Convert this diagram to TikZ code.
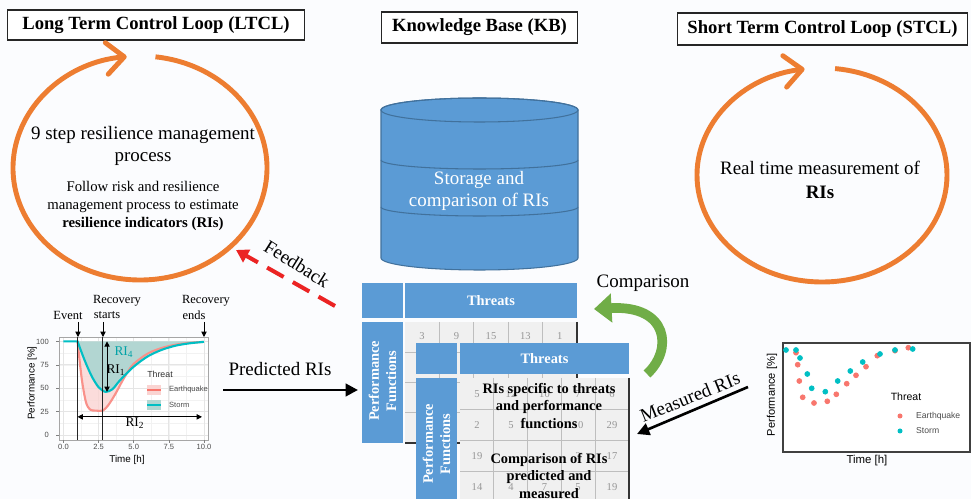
\documentclass[tikz,border=0pt]{standalone}
\usepackage{fontspec}
\setmainfont{Liberation Serif}
\setsansfont{Liberation Sans}
\usetikzlibrary{arrows.meta}
\definecolor{loopor}{RGB}{237,125,49}
\definecolor{kbblue}{RGB}{91,155,213}
\definecolor{kbedge}{RGB}{65,113,156}
\definecolor{cellgray}{RGB}{240,240,240}
\definecolor{cellline}{RGB}{190,190,190}
\definecolor{numgray}{RGB}{150,150,150}
\definecolor{fbred}{RGB}{235,35,35}
\definecolor{cmpgreen}{RGB}{112,173,71}
\definecolor{eqred}{RGB}{248,118,109}
\definecolor{eqfill}{RGB}{250,212,210}
\definecolor{stteal}{RGB}{0,191,196}
\definecolor{stfill}{RGB}{178,214,210}
\definecolor{bgpaper}{RGB}{251,252,254}
\newcommand{\pxu}{0.5669pt}
\begin{document}
\begin{tikzpicture}[x=0.02cm,y=-0.02cm,
    title/.style={draw=black!85,line width=0.8pt,fill=white,inner sep=0pt,
      font=\fontsize{10.6}{12}\selectfont\bfseries},
    big/.style={align=center,font=\fontsize{10.8}{12.5}\selectfont},
    small/.style={align=center,font=\fontsize{8.4}{10.2}\selectfont},
    cyc/.style={loopor,line width=2.8pt,
      -{Straight Barb[length=10pt,width=18pt,line width=2.8pt,round]}},
    hdr/.style={fill=kbblue,text=white,inner sep=0pt,align=center,
      font=\fontsize{8.2}{9.8}\selectfont\bfseries},
    num/.style={text=numgray,font=\fontsize{6}{7}\selectfont},
    over/.style={align=center,font=\fontsize{8.2}{9.7}\selectfont\bfseries},
    ann/.style={font=\fontsize{7.1}{8}\selectfont},
    rilab/.style={font=\fontsize{7.6}{8}\selectfont},
    axlab/.style={font=\sffamily\fontsize{5.6}{6.5}\selectfont},
    ticklab/.style={text=black!70,font=\sffamily\fontsize{4.3}{5}\selectfont},
    grid/.style={cellline,line width=0.4pt}]
  \path[use as bounding box,fill=bgpaper] (0,0) rectangle (971,499);

  \node[title,minimum width=298*\pxu,minimum height=30*\pxu] (ltcl) at (156,25) {Long Term Control Loop (LTCL)};
  \node[title,minimum width=197*\pxu,minimum height=31*\pxu] (kb) at (479.5,27.5) {Knowledge Base (KB)};
  \node[title,minimum width=291*\pxu,minimum height=32*\pxu] (stcl) at (822.5,29) {Short Term Control Loop (STCL)};

  \draw[cyc] ([shift={(-83:127 and 112)}]140,168) arc[start angle=-83,end angle=264,x radius=127,y radius=112];
  \draw[cyc] ([shift={(-84:125 and 107)}]822,175) arc[start angle=-84,end angle=262,x radius=125,y radius=107];

  \node[big] (ltxt) at (143,146) {9 step resilience management\\process};
  \node[small] (lsub) at (143,206) {Follow risk and resilience\\management process to estimate\\\textbf{resilience indicators (RIs)}};
  \node[big,font=\fontsize{10.8}{14}\selectfont] (rtxt) at (820,180) {Real time measurement of\\\textbf{RIs}};

  \filldraw[fill=kbblue,draw=kbedge,line width=0.6pt] (381,110) -- (381,258)
    arc[start angle=180,end angle=0,x radius=98.5,y radius=12] -- (578,110)
    arc[start angle=0,end angle=-180,x radius=98.5,y radius=12] -- cycle;
  \draw[kbedge,line width=0.6pt] (479.5,110) ellipse[x radius=98.5,y radius=12];
  \draw[kbedge,line width=0.6pt] (381,160) arc[start angle=180,end angle=0,x radius=98.5,y radius=9];
  \draw[kbedge,line width=0.6pt] (381,207) arc[start angle=180,end angle=0,x radius=98.5,y radius=9];
  \node[big,text=white] (kbtxt) at (479,191) {Storage and\\comparison of RIs};

  \fill[kbblue] (362,283) rectangle (403,318);
  \node[hdr,minimum width=172*\pxu,minimum height=35*\pxu] (bthr) at (491,300.5) {Threats};
  \fill[kbblue] (362,322) rectangle (403,443);
  \node[hdr,rotate=90] (bpf) at (382.5,381) {Performance\\Functions};
  \fill[cellgray] (405,322) rectangle (577,443);
  \draw[grid] (439.4,322) -- (439.4,443) (473.8,322) -- (473.8,443) (508.2,322) -- (508.2,443)
    (542.6,322) -- (542.6,443) (405,352.2) -- (577,352.2) (405,382.5) -- (577,382.5) (405,412.8) -- (577,412.8);
  \draw[black!80,line width=0.8pt] (577,322) -- (577,443) -- (405,443);
  \node[num] (b1) at (422,336) {3};
  \node[num] (b2) at (456.6,336) {9};
  \node[num] (b3) at (491,336) {15};
  \node[num] (b4) at (525.4,336) {13};
  \node[num] (b5) at (559.8,336) {1};

  \fill[kbblue] (416,343) rectangle (457,374);
  \node[hdr,minimum width=169*\pxu,minimum height=31*\pxu] (fthr) at (544.5,358.5) {Threats};
  \fill[kbblue] (416,378) rectangle (457,505);
  \node[hdr,rotate=90] (fpf) at (436.5,444) {Performance\\Functions};
  \fill[cellgray] (460,378) rectangle (629,505);
  \draw[grid] (493.8,378) -- (493.8,505) (527.6,378) -- (527.6,505) (561.4,378) -- (561.4,505)
    (595.2,378) -- (595.2,505) (460,409) -- (629,409) (460,440) -- (629,440) (460,471) -- (629,471);
  \draw[black!80,line width=0.8pt] (629,378) -- (629,505);
  \node[num] (f11) at (477,394) {5};
  \node[num] (f12) at (511,394) {12};
  \node[num] (f13) at (544.5,394) {10};
  \node[num] (f14) at (578,394) {7};
  \node[num] (f15) at (612,394) {6};
  \node[num] (f21) at (477,425) {2};
  \node[num] (f22) at (511,425) {5};
  \node[num] (f24) at (578,425) {10};
  \node[num] (f25) at (612,425) {29};
  \node[num] (f31) at (477,456) {19};
  \node[num] (f34) at (578,456) {3};
  \node[num] (f35) at (612,456) {17};
  \node[num] (f41) at (477,487) {14};
  \node[num] (f42) at (511,487) {4};
  \node[num] (f43) at (544.5,487) {7};
  \node[num] (f44) at (578,487) {5};
  \node[num] (f45) at (612,487) {19};
  \node[over] (ov1) at (549,406) {RIs specific to threats\\and performance\\functions};
  \node[over] (ov2) at (549,476) {Comparison of RIs\\predicted and\\measured};

  \begin{scope}[shift={(1.27cm,-8.7cm)},x=0.281cm,y=0.0187cm]
    \fill[white] (-0.32,-5.3) rectangle (10.28,104.8);
    \draw[black!5,line width=0.3pt,xstep=1.25,ystep=12.5] (-0.32,-5.3) grid (10.28,104.8);
    \draw[black!10,line width=0.4pt,xstep=2.5,ystep=25] (-0.32,-5.3) grid (10.28,104.8);
    \fill[stfill] (1,100) -- plot[smooth] coordinates {(1,100) (1.5,80) (2,63) (2.5,51) (3,46) (3.5,49) (4,58)
      (5,73) (6,84) (7,91) (8,95.5) (9,98) (10,99.5)} -- (10,100) -- cycle;
    \fill[eqfill,opacity=0.8] plot[smooth] coordinates {(1,100) (1.5,80) (2,63) (2.5,51) (3,46) (3.5,49) (4,58)
      (5,73) (6,84) (7,91) (8,95.5) (9,98) (10,99.5)} -- plot[smooth] coordinates {(10,99.5) (9,98.5)
      (8,96.5) (7,93) (6,87) (5,76) (4.6,68) (4.2,58) (3.7,44) (3.2,32) (2.8,26) (2.3,26) (1.9,27) (1.6,35) (1.3,60) (1,100)} -- cycle;
    \draw[eqred!80,line width=1.2pt] plot[smooth] coordinates {(1,100) (1.3,60) (1.6,35) (1.9,27) (2.3,26) (2.8,26)
      (3.2,32) (3.7,44) (4.2,58) (4.6,68) (5,76) (6,87) (7,93) (8,96.5) (9,98.5) (10,99.5)};
    \draw[stteal,line width=1.2pt] (0,100) -- plot[smooth] coordinates {(1,100) (1.5,80) (2,63) (2.5,51) (3,46)
      (3.5,49) (4,58) (5,73) (6,84) (7,91) (8,95.5) (9,98) (10,99.5)};
    \draw[black!35,line width=0.4pt] (-0.32,-5.3) rectangle (10.28,104.8);
    \draw[black!85,line width=0.6pt] (1,104.8) -- (1,-5.3) (2.8,104.8) -- (2.8,-5.3);
    \draw[line width=0.5pt,{Triangle[length=3pt,width=3pt]}-{Triangle[length=3pt,width=3pt]}] (3.1,100) -- (3.1,46);
    \draw[line width=0.5pt,{Triangle[length=3pt,width=3pt]}-{Triangle[length=3pt,width=3pt]}] (1,19.3) -- (9.86,19.3);
  \end{scope}
  \draw[black!50,line width=0.4pt] (56,341.5) -- (59,341.5) (56,364.9) -- (59,364.9) (56,388.3) -- (59,388.3)
    (56,411.6) -- (59,411.6) (56,435) -- (59,435) (63.5,440) -- (63.5,443) (98.6,440) -- (98.6,443)
    (133.75,440) -- (133.75,443) (168.9,440) -- (168.9,443) (204,440) -- (204,443);
  \node[ticklab,anchor=east] (y100) at (55,341.5) {100};
  \node[ticklab,anchor=east] (y75) at (55,364.9) {75};
  \node[ticklab,anchor=east] (y50) at (55,388.3) {50};
  \node[ticklab,anchor=east] (y25) at (55,411.6) {25};
  \node[ticklab,anchor=east] (y0) at (55,435) {0};
  \node[ticklab] (x0) at (63.5,447) {0.0};
  \node[ticklab] (x1) at (98.6,447) {2.5};
  \node[ticklab] (x2) at (133.75,447) {5.0};
  \node[ticklab] (x3) at (168.9,447) {7.5};
  \node[ticklab] (x4) at (204,447) {10.0};
  \node[axlab,rotate=90] (lyl) at (32,383) {Performance [\%]};
  \node[axlab] (lxl) at (127,460) {Time [h]};
  \node[ticklab,text=black!80,font=\sffamily\fontsize{5}{6}\selectfont] (lth) at (160,374) {Threat};
  \fill[eqfill] (147,385.5) rectangle (161,395);
  \draw[eqred,line width=1.1pt] (147,390.3) -- (161,390.3);
  \fill[stfill] (147,400.5) rectangle (161,410);
  \draw[stteal,line width=1.1pt] (147,405.3) -- (161,405.3);
  \node[ticklab,anchor=west] (leq) at (163,390) {Earthquake};
  \node[ticklab,anchor=west] (lst) at (163,405) {Storm};
  \node[ann] (ev) at (68,315) {Event};
  \node[ann] (rs1) at (117,301) {Recovery};
  \node[ann] (rs2) at (107,315) {starts};
  \node[ann] (re1) at (206,301) {Recovery};
  \node[ann] (re2) at (194,315) {ends};
  \draw[line width=0.5pt,-{Triangle[length=3pt,width=3pt]}] (78,322) -- (78,337);
  \draw[line width=0.5pt,-{Triangle[length=3pt,width=3pt]}] (103,322) -- (103,337);
  \draw[line width=0.5pt,-{Triangle[length=3pt,width=3pt]}] (204,322) -- (204,337);
  \node[rilab,text=stteal!85!black] (ri4) at (124,352) {RI\textsubscript{4}};
  \node[rilab] (ri1) at (116,370) {RI\textsubscript{1}};
  \node[rilab] (ri2) at (135,423) {RI\textsubscript{2}};

  \draw[black!75,line width=0.6pt,fill=white] (783,343) rectangle (970,452);
  \draw[eqred] plot[only marks,mark=*,mark size=1.4pt] coordinates {(796,352.7)
    (797.7,364.7) (799.3,381) (802.7,397.3) (814,403) (827.3,401.3) (836.3,394.3) (846.7,383.7) (856,375.3)
    (866,366.7) (877.3,355.7) (895,350.7) (908.3,347.7)};
  \draw[stteal] plot[only marks,mark=*,mark size=1.4pt] coordinates {(786,350)
    (796,350) (800,358) (807.3,374) (811.7,388.3) (825.3,391.7) (837.7,381) (850.3,371) (862.7,362) (880,354)
    (895,350) (912.7,349)};
  \node[axlab,rotate=90,font=\sffamily\fontsize{6.3}{7}\selectfont] (ryl) at (772,395) {Performance [\%]};
  \node[axlab,font=\sffamily\fontsize{6.5}{7}\selectfont] (rxl) at (867,461) {Time [h]};
  \node[axlab,font=\sffamily\fontsize{6}{7}\selectfont] (rth) at (906,397) {Threat};
  \fill[eqred] (900,416) circle[radius=2.5];
  \fill[stteal] (900,431) circle[radius=2.5];
  \node[ticklab,anchor=west,font=\sffamily\fontsize{4.9}{6}\selectfont] (req) at (910,416) {Earthquake};
  \node[ticklab,anchor=west,font=\sffamily\fontsize{4.9}{6}\selectfont] (rst) at (910,431) {Storm};

  \coordinate (predA) at (223,390);
  \coordinate (predB) at (358,390);
  \draw[line width=1.7pt,-{Triangle[length=7pt,width=7pt]}] (predA) -- (predB);
  \node[big] (pred) at (280,369) {Predicted RIs};
  \coordinate (fbA) at (335,306);
  \coordinate (fbB) at (236,250);
  \draw[fbred,line width=2.3pt,dash pattern=on 10.8pt off 6pt,-{Triangle[length=7pt,width=8pt]}] (fbA) -- (fbB);
  \node[big,rotate=-32] (fb) at (297,264) {Feedback};
  \coordinate (cmpA) at (647,374);
  \coordinate (cmpB) at (594,309);
  \draw[cmpgreen,line width=5.5pt,-{Triangle[length=10pt,width=16pt]}] (cmpA) .. controls (673,350) and (669,305) .. (cmpB);
  \node[big] (cmp) at (643,283) {Comparison};
  \coordinate (msA) at (748,387);
  \coordinate (msB) at (637,434);
  \draw[line width=1.5pt,-{Triangle[length=7pt,width=7pt]}] (msA) -- (msB);
  \node[big,rotate=22] (ms) at (690,397) {Measured RIs};
\end{tikzpicture}
\end{document}
